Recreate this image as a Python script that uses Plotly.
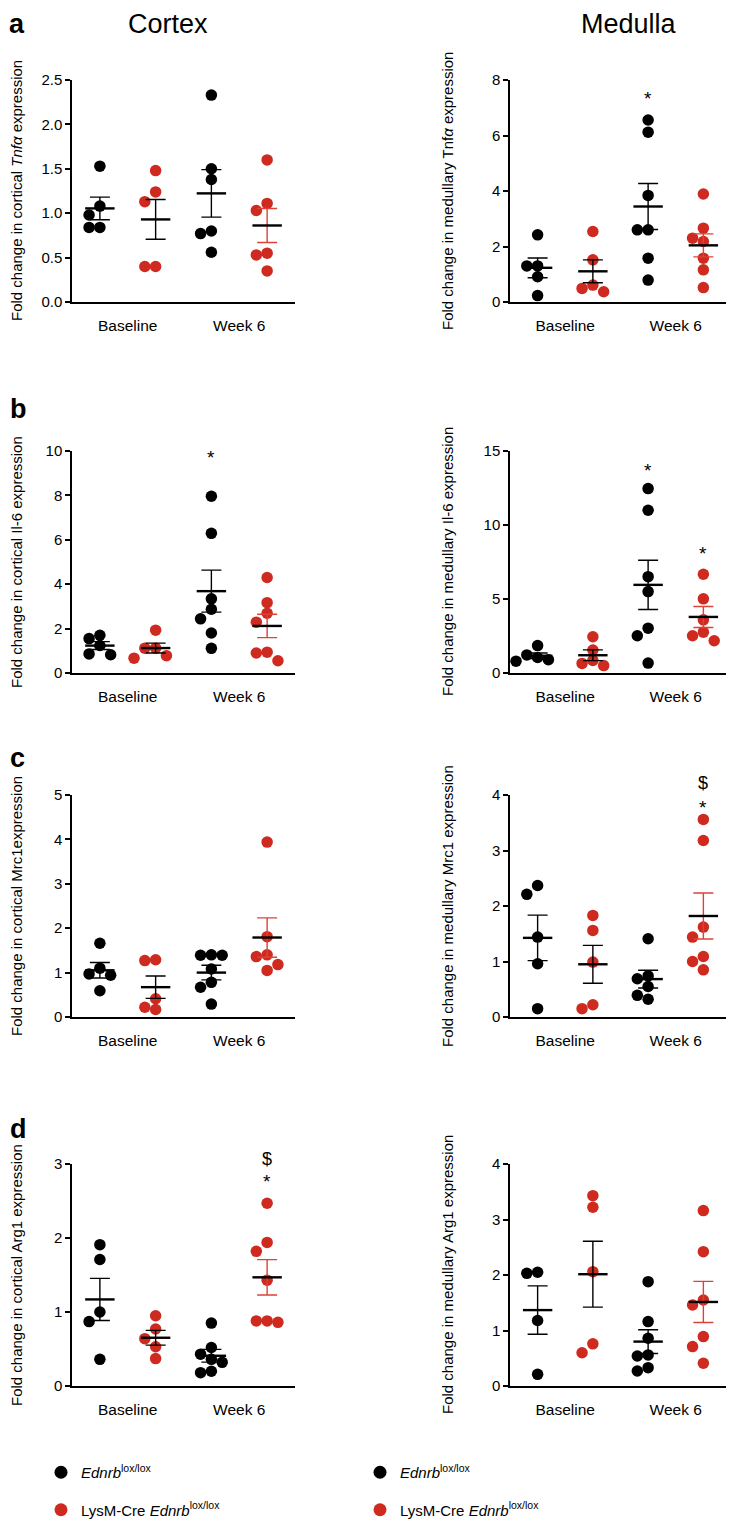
import numpy as np
import plotly.graph_objects as go
from plotly.subplots import make_subplots

W, H = 734, 1522
PAGE_PAD = 8  # the html body margin shifts the figure by this many pixels
FONT = "Liberation Sans, Arial, sans-serif"
BLACK = "#000000"
RED = "#cf2a1f"
RED_ERR = "#dd4237"

group_labels = ["Baseline", "Week 6"]
legend_names = [
    "<i>Ednrb</i><sup>lox/lox</sup>",
    "LysM-Cre <i>Ednrb</i><sup>lox/lox</sup>",
]

# Each panel: Ednrb baseline, LysM-Cre baseline, Ednrb week 6, LysM-Cre week 6
tnfa_cortex = [
    [1.53, 1.08, 0.98, 0.84, 0.84],
    [1.48, 1.24, 1.13, 0.40, 0.40],
    [2.33, 1.50, 1.38, 0.80, 0.77, 0.56],
    [1.60, 1.11, 1.03, 0.55, 0.53, 0.35],
]
tnfa_medulla = [
    [2.42, 1.30, 1.30, 0.91, 0.23],
    [2.54, 1.52, 0.61, 0.49, 0.37],
    [6.56, 6.12, 3.84, 2.60, 2.60, 1.58, 0.79],
    [3.89, 2.66, 2.30, 2.18, 1.58, 1.16, 0.52],
]
il6_cortex = [
    [1.70, 1.55, 1.24, 0.86, 0.82],
    [1.93, 1.12, 1.12, 0.78, 0.67],
    [7.96, 6.29, 3.34, 2.87, 2.44, 1.80, 1.11],
    [4.30, 3.17, 2.69, 2.29, 0.94, 0.90, 0.55],
]
il6_medulla = [
    [1.85, 1.22, 1.05, 0.90, 0.80],
    [2.45, 1.55, 0.85, 0.65, 0.50],
    [12.46, 11.00, 6.51, 5.50, 3.03, 2.52, 0.67],
    [6.67, 5.01, 3.59, 2.76, 2.52, 2.18],
]
mrc1_cortex = [
    [1.66, 1.10, 0.97, 0.94, 0.59],
    [1.29, 1.27, 0.41, 0.22, 0.17],
    [1.40, 1.39, 1.39, 1.08, 0.78, 0.67, 0.29],
    [3.94, 1.81, 1.40, 1.36, 1.18, 1.05],
]
mrc1_medulla = [
    [2.37, 2.21, 1.44, 0.96, 0.15],
    [1.83, 1.56, 0.99, 0.22, 0.15],
    [1.41, 0.74, 0.69, 0.55, 0.39, 0.32],
    [3.56, 3.18, 1.62, 1.44, 1.09, 1.00, 0.85],
]
arg1_cortex = [
    [1.91, 1.71, 1.00, 0.87, 0.36],
    [0.95, 0.77, 0.64, 0.53, 0.37],
    [0.85, 0.52, 0.43, 0.36, 0.32, 0.20, 0.18],
    [2.47, 1.94, 1.82, 1.43, 0.88, 0.88, 0.86],
]
arg1_medulla = [
    [2.05, 2.03, 1.18, 0.21],
    [3.43, 3.22, 2.06, 0.76, 0.60],
    [1.88, 1.16, 0.86, 0.56, 0.54, 0.33, 0.27],
    [3.16, 2.42, 1.55, 1.46, 0.89, 0.71, 0.41],
]

# (data, y max, y tick step, tick format, y title)
panels = [
    (tnfa_cortex, 2.5, 0.5, ".1f", "Fold change in cortical <i>Tnfα</i> expression"),
    (tnfa_medulla, 8, 2, "d", "Fold change in medullary Tnf<i>α</i> expression"),
    (il6_cortex, 10, 2, "d", "Fold change in cortical Il-6 expression"),
    (il6_medulla, 15, 5, "d", "Fold change in medullary Il-6 expression"),
    (mrc1_cortex, 5, 1, "d", "Fold change in cortical Mrc1expression"),
    (mrc1_medulla, 4, 1, "d", "Fold change in medullary Mrc1 expression"),
    (arg1_cortex, 3, 1, "d", "Fold change in cortical Arg1 expression"),
    (arg1_medulla, 4, 1, "d", "Fold change in medullary Arg1 expression"),
]

# significance marks: (panel index, group index, text, y in data units)
sig_marks = [
    (1, 2, "*", 7.35),
    (2, 2, "*", 9.7),
    (3, 2, "*", 13.7),
    (3, 3, "*", 8.1),
    (5, 3, "*", 3.78),
    (5, 3, "$", 4.22),
    (6, 3, "*", 2.77),
    (6, 3, "$", 3.07),
]

# pixel layout on the page (screen coordinates)
col_x = [(72, 295), (510, 731)]
row_y = [(80, 302), (451, 673), (795, 1017), (1164, 1386)]


def sx(px: float) -> float:
    """Screen x pixel -> paper fraction."""
    return (px - PAGE_PAD) / W


def sy(py: float) -> float:
    """Screen y pixel -> paper fraction."""
    return 1 - (py - PAGE_PAD) / H


def beeswarm(values, px_per_unit, px_per_x, diam=10.8):
    """Spread points sideways so markers do not overlap (GraphPad-like)."""
    placed = []
    offsets = []
    step = diam / px_per_x
    for v in values:
        yp = v * px_per_unit
        for k in [0, -1, 1, -2, 2, -3, 3]:
            xp = k * diam
            if all((xp - a) ** 2 + (yp - b) ** 2 >= (diam - 0.6) ** 2 for a, b in placed):
                break
        placed.append((xp, yp))
        offsets.append(k * step)
    return offsets


fig = make_subplots(rows=4, cols=2)

for i, (data, ymax, dtick, fmt, ytitle) in enumerate(panels):
    r, c = i // 2, i % 2
    x0, x1 = col_x[c]
    y0, y1 = row_y[r]
    px_y = (y1 - y0) / ymax
    px_x = (x1 - x0) / 4.0
    for g, vals in enumerate(data):
        color = BLACK if g % 2 == 0 else RED
        offs = beeswarm(sorted(vals, reverse=True), px_y, px_x)
        fig.add_trace(
            go.Scatter(
                x=[g + o for o in offs],
                y=sorted(vals, reverse=True),
                mode="markers",
                marker=dict(size=11.5, color=color, line=dict(width=0)),
                showlegend=False,
                cliponaxis=False,
                hoverinfo="y",
            ),
            row=r + 1,
            col=c + 1,
        )
    for g, vals in enumerate(data):
        arr = np.array(vals)
        mean = arr.mean()
        sem = arr.std(ddof=1) / np.sqrt(len(arr))
        err_col = RED_ERR if g == 3 else BLACK
        fig.add_trace(
            go.Scatter(
                x=[g],
                y=[mean],
                mode="markers",
                marker=dict(symbol="line-ew", size=21, line=dict(width=2.4, color=BLACK)),
                error_y=dict(type="data", array=[sem], color=err_col, thickness=1.4, width=10),
                showlegend=False,
                cliponaxis=False,
                hoverinfo="y",
            ),
            row=r + 1,
            col=c + 1,
        )
    n = i + 1
    xa = "xaxis" if n == 1 else f"xaxis{n}"
    ya = "yaxis" if n == 1 else f"yaxis{n}"
    fig.layout[xa].update(
        domain=[sx(x0), sx(x1)],
        range=[-0.5, 3.5],
        tickvals=[0.5, 2.5],
        ticktext=group_labels,
        ticks="",
        ticklabelstandoff=9,
        showline=True,
        linecolor=BLACK,
        linewidth=1.5,
        showgrid=False,
        zeroline=False,
        tickfont=dict(size=15.5, color=BLACK),
    )
    fig.layout[ya].update(
        domain=[sy(y1), sy(y0)],
        range=[0, ymax],
        tickvals=list(np.arange(0, ymax + dtick / 2, dtick)),
        tickformat=fmt,
        ticks="outside",
        ticklen=5,
        tickwidth=1.5,
        tickcolor=BLACK,
        showline=True,
        linecolor=BLACK,
        linewidth=1.5,
        showgrid=False,
        zeroline=False,
        tickfont=dict(size=15, color=BLACK),
    )
    # rotated y title (the cortex one cannot go further left than the page edge)
    fig.add_annotation(
        x=sx(16 if c == 0 else 447),
        y=sy((y0 + y1) / 2),
        xref="paper",
        yref="paper",
        xanchor="center",
        yanchor="middle",
        text=ytitle,
        textangle=-90,
        showarrow=False,
        font=dict(size=15, color=BLACK),
    )

for p, g, txt, yv in sig_marks:
    n = p + 1
    y0, y1 = row_y[p // 2]
    fig.add_annotation(
        x=g,
        y=sy(y1 - yv / panels[p][1] * (y1 - y0)),
        xref=f"x{n}" if n > 1 else "x",
        yref="paper",
        xanchor="center",
        yanchor="middle",
        text=txt,
        showarrow=False,
        font=dict(size=18 if txt == "$" else 19, color=BLACK),
    )

# column headers and panel letters (top ones held inside the page)
for txt, xc in [("Cortex", 168), ("Medulla", 629)]:
    fig.add_annotation(
        x=sx(xc), y=1, xref="paper", yref="paper", text=txt,
        xanchor="center", yanchor="top", borderpad=0,
        showarrow=False, font=dict(size=27, color=BLACK),
    )
fig.add_annotation(
    x=0, y=1, xref="paper", yref="paper", text="<b>a</b>",
    xanchor="left", yanchor="top", borderpad=0, showarrow=False,
    font=dict(size=27, color=BLACK),
)
for txt, yc in [("b", 409), ("c", 758), ("d", 1129)]:
    fig.add_annotation(
        x=0, y=sy(yc), xref="paper", yref="paper", text=f"<b>{txt}</b>",
        xanchor="left", yanchor="middle", showarrow=False, font=dict(size=27, color=BLACK),
    )

# legends (one under each column)
for lg in ["legend", "legend2"]:
    for k, (name, color) in enumerate(zip(legend_names, [BLACK, RED])):
        fig.add_trace(
            go.Scatter(
                x=[None], y=[None], mode="markers", name=name,
                marker=dict(size=13, color=color),
                legend=lg, legendgroup=f"{lg}_{k}", showlegend=True,
            )
        )

legend_style = dict(
    yanchor="top", xanchor="left", font=dict(size=15, color=BLACK),
    tracegroupgap=15, bgcolor="rgba(0,0,0,0)", itemsizing="trace",
)
fig.update_layout(
    width=W,
    height=H,
    margin=dict(l=0, r=0, t=0, b=0, autoexpand=False),
    paper_bgcolor="white",
    plot_bgcolor="white",
    font=dict(family=FONT, color=BLACK),
    legend=dict(x=sx(41), y=sy(1456), **legend_style),
    legend2=dict(x=sx(360), y=sy(1456), **legend_style),
)

fig.write_html("out.html")
